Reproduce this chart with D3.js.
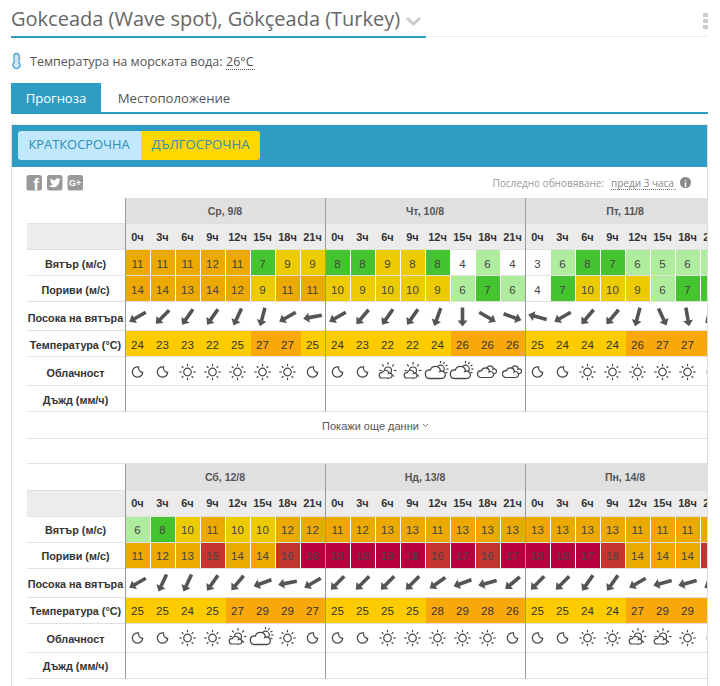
<!DOCTYPE html>
<html>
<head>
<meta charset="utf-8">
<script src="https://cdn.jsdelivr.net/npm/d3@7"></script>
<style>
  html, body { margin: 0; padding: 0; background: #fff; overflow: hidden; }
  text { font-family: "Liberation Sans", Arial, sans-serif; }
  text.os { font-family: "Open Sans", sans-serif; }
</style>
</head>
<body>
<script>
// define data
// a decimal in wind/gust shows the rounded number but falls in the next colour band
var tables = [
  {
    top: 198,
    days: [
      {
        label: "Ср, 9/8",
        wind: [11, 11, 11, 12, 11, 7, 9, 9],
        gust: [14, 14, 13, 14, 12, 9, 11, 11],
        dir: [240, 225, 215, 215, 205, 195, 240, 260],
        temp: [24, 23, 23, 22, 25, 27, 27, 25],
        sky: ["moon", "moon", "sun", "sun", "sun", "sun", "sun", "moon"],
      },
      {
        label: "Чт, 10/8",
        wind: [8, 8, 9, 8.4, 8, 4, 6, 4],
        gust: [10, 9, 10, 10, 9, 6, 7, 6],
        dir: [240, 220, 215, 215, 200, 180, 120, 110],
        temp: [24, 23, 22, 22, 24, 26, 26, 26],
        sky: ["moon", "moon", "part", "part", "most", "most", "cloud", "cloud"],
      },
      {
        label: "Пт, 11/8",
        wind: [3, 6, 8, 7, 6, 5, 6, 6],
        gust: [4, 7, 10, 10, 9, 6, 7, 7],
        dir: [285, 240, 220, 220, 195, 155, 170, 230],
        temp: [25, 24, 24, 24, 26, 27, 27, 26],
        sky: ["moon", "moon", "sun", "sun", "sun", "sun", "sun", "moon"],
      },
    ],
  },
  {
    top: 465,
    days: [
      {
        label: "Сб, 12/8",
        wind: [6, 8, 10, 11, 10, 10, 12, 12],
        gust: [11, 12, 13, 15, 14, 14, 16, 16.4],
        dir: [240, 205, 205, 215, 220, 250, 260, 240],
        temp: [25, 25, 24, 25, 27, 29, 29, 27],
        sky: ["moon", "moon", "sun", "sun", "part", "most", "sun", "moon"],
      },
      {
        label: "Нд, 13/8",
        wind: [11, 12, 13, 13, 11, 13, 13, 13],
        gust: [18, 18, 19, 18, 16, 17, 16, 17],
        dir: [225, 225, 225, 225, 235, 250, 255, 230],
        temp: [25, 25, 25, 25, 28, 29, 28, 26],
        sky: ["moon", "moon", "sun", "sun", "sun", "sun", "sun", "moon"],
      },
      {
        label: "Пн, 14/8",
        wind: [13, 13, 13, 13, 11, 11, 11, 11],
        gust: [18, 18, 17, 16, 14, 14, 14, 16],
        dir: [225, 225, 215, 215, 240, 255, 255, 240],
        temp: [25, 25, 24, 24, 27, 29, 29, 27],
        sky: ["moon", "moon", "sun", "sun", "part", "part", "sun", "moon"],
      },
    ],
  },
];

var hours = ["0ч", "3ч", "6ч", "9ч", "12ч", "15ч", "18ч", "21ч"];

var rowNames = [
  { label: "Вятър (м/с)", key: "wind", h: 26 },
  { label: "Пориви (м/с)", key: "gust", h: 26 },
  { label: "Посока на вятъра", key: "dir", h: 29 },
  { label: "Температура (°C)", key: "temp", h: 26 },
  { label: "Облачност", key: "sky", h: 29 },
  { label: "Дъжд (мм/ч)", key: "rain", h: 26 },
];

// define display
var w = 720;
var h = 686;
var blue = "#2e9cc3";
var line = "#e0e0e0";

var svg = d3.select("body").append("svg").attr("width", w).attr("height", h).style("display", "block");

var speedColor = d3
  .scaleThreshold()
  .domain([5, 7, 8.3, 11, 15, 16.3])
  .range(["#ffffff", "#b0ec9e", "#44c42f", "#eccb00", "#ecaa00", "#c4352f", "#b80040"]);
var tempColor = d3.scaleThreshold().domain([26]).range(["#fccc00", "#f9a80b"]);

var dayScale = d3.scaleBand().domain(d3.range(3)).range([125.5, 725.5]);
var hourScale = d3.scaleBand().domain(d3.range(8)).range([0, dayScale.bandwidth()]);

// page header
svg.append("text").attr("class", "os").attr("x", 11).attr("y", 26).attr("font-size", 20).attr("fill", "#666")
  .text("Gokceada (Wave spot), Gökçeada (Turkey)");
svg.append("path").attr("d", "M407 18l6.500 6 6.500-6").attr("fill", "none").attr("stroke", "#ccc").attr("stroke-width", 3);
svg.append("rect").attr("x", 11).attr("y", 36).attr("width", 415).attr("height", 2).attr("fill", blue);
svg.append("line").attr("x1", 426).attr("x2", 708).attr("y1", 36.5).attr("y2", 36.5)
  .attr("stroke", "#ddd").attr("stroke-dasharray", "1,1");
svg.selectAll("rect.dot").data([13, 19, 25]).enter().append("rect")
  .attr("x", 703).attr("y", function (d) { return d; }).attr("width", 5).attr("height", 4).attr("fill", "#ccc");

// water temperature
var thermo = svg.append("g").attr("fill", "none").attr("stroke", "#4ba3d6");
thermo.append("path").attr("stroke-width", 1.3).attr("fill", "#cfe6f5")
  .attr("d", "M14 56a2.500 2.500 0 0 1 5 0v6.500a3.500 3.500 0 1 1-5 0z");
thermo.append("path").attr("stroke-width", 1).attr("stroke", "#d9a56a")
  .attr("d", "M19.500 56h1.500M19.500 59h1.500");
svg.append("text").attr("class", "os").attr("x", 30).attr("y", 66).attr("font-size", 12.5).attr("fill", "#555")
  .text("Температура на морската вода:");
svg.append("text").attr("class", "os").attr("x", 226).attr("y", 66).attr("font-size", 12.5).attr("fill", "#555").text("26°C");
svg.append("line").attr("x1", 226).attr("x2", 255).attr("y1", 69.5).attr("y2", 69.5)
  .attr("stroke", "#555").attr("stroke-dasharray", "1,1");

// tabs
svg.append("rect").attr("x", 11).attr("y", 83).attr("width", 90).attr("height", 30).attr("fill", blue);
svg.append("rect").attr("x", 11).attr("y", 112).attr("width", 697).attr("height", 2).attr("fill", blue);
svg.append("text").attr("class", "os").attr("x", 56).attr("y", 103).attr("text-anchor", "middle")
  .attr("font-size", 13).attr("fill", "#fff").text("Прогноза");
svg.append("text").attr("class", "os").attr("x", 174).attr("y", 103).attr("text-anchor", "middle")
  .attr("font-size", 13.2).attr("fill", "#555").text("Местоположение");

// panel
svg.append("rect").attr("x", 11.500).attr("y", 125).attr("width", 696).attr("height", 570)
  .attr("fill", "#fff").attr("stroke", "#ddd");
svg.append("rect").attr("x", 12).attr("y", 125).attr("width", 695).attr("height", 42).attr("fill", blue);
svg.append("path").attr("fill", "#c2e8fd").attr("d", "M21 131h120v29h-120a3 3 0 0 1-3-3v-23a3 3 0 0 1 3-3z");
svg.append("path").attr("fill", "#ffd800").attr("d", "M141 131h116a3 3 0 0 1 3 3v23a3 3 0 0 1-3 3h-116z");
svg.append("text").attr("class", "os").attr("x", 79).attr("y", 149).attr("text-anchor", "middle")
  .attr("font-size", 12.9).attr("fill", "#2e8fb5").text("КРАТКОСРОЧНА");
svg.append("text").attr("class", "os").attr("x", 200.500).attr("y", 149).attr("text-anchor", "middle")
  .attr("font-size", 13.2).attr("fill", "#2e8fb5").text("ДЪЛГОСРОЧНА");

// share buttons
var shareGlyphs = [
  { x: 26.500, t: "f" },
  { x: 47, t: "" },
  { x: 67.500, t: "G+" },
];
var share = svg.selectAll("g.share").data(shareGlyphs).enter().append("g").attr("class", "share")
  .attr("transform", function (d) { return "translate(" + d.x + ",175)"; });
share.append("rect").attr("width", 15.500).attr("height", 15.500).attr("rx", 2.500).attr("fill", "#999");
share.append("text").attr("x", function (d) { return d.t == "f" ? 9.500 : 7.700; }).attr("y", function (d) { return d.t == "f" ? 15 : 11; })
  .attr("text-anchor", "middle").attr("fill", "#fff").attr("font-weight", "bold")
  .attr("font-size", function (d) { return d.t == "f" ? 17 : 9; })
  .text(function (d) { return d.t; });
// twitter bird
svg.append("path").attr("fill", "#fff").attr("transform", "translate(47,175)")
  .attr("d", "M2.500 11.500c4 2 9.500 0.500 10-6l1.200-1.300-1.500 0.300 1-1.300-1.500 0.600c-1-1.200-3.500-0.600-3.300 1.700-2-0.100-3.500-1-4.700-2.300-0.600 1.200-0.200 2.300 0.700 3l-1-0.300c0 1.100 0.700 1.900 1.800 2.300l-1 0c0.300 0.800 1 1.300 2 1.400-1 0.800-2.500 1.200-3.700 1z");

// last update
svg.append("text").attr("class", "os").attr("x", 492.500).attr("y", 187).attr("font-size", 10).attr("fill", "#999").text("Последно обновяване:");
svg.append("text").attr("class", "os").attr("x", 611).attr("y", 187).attr("font-size", 10).attr("fill", "#888").text("преди 3 часа");
svg.append("line").attr("x1", 611).attr("x2", 676).attr("y1", 189.500).attr("y2", 189.500)
  .attr("stroke", "#777").attr("stroke-dasharray", "1,1");
svg.append("circle").attr("cx", 685.500).attr("cy", 182.500).attr("r", 5.500).attr("fill", "#888");
svg.append("text").attr("x", 685.500).attr("y", 186.500).attr("text-anchor", "middle").attr("font-size", 9)
  .attr("font-weight", "bold").attr("fill", "#fff").text("i");

// clip the tables at the panel edge
svg.append("clipPath").attr("id", "panel").append("rect").attr("x", 12).attr("y", 190).attr("width", 695).attr("height", 500);

var chart = svg.append("g").attr("clip-path", "url(#panel)");

tables.forEach(drawTable);

function drawTable(table, ti) {
  var g = chart.append("g").attr("transform", "translate(0," + table.top + ")");
  var y0 = 26;
  var y1 = 52;
  // second table's top border sits a pixel above its rows, its text a bit higher too
  var headTop = ti == 0 ? 0 : -1;
  var nudge = ti == 0 ? 0 : -1;

  // header rows
  g.append("rect").attr("x", dayScale(0)).attr("y", headTop).attr("width", 600).attr("height", y0 - headTop).attr("fill", "#e0e0e0");
  g.append("rect").attr("x", 27).attr("y", y0).attr("width", 700).attr("height", y1 - y0).attr("fill", "#ececec");

  var yy = y1;
  var rowY = {};
  rowNames.forEach(function (r) {
    rowY[r.key] = yy;
    yy += r.h;
  });

  table.days.forEach(function (day, di) {
    var dg = g.append("g").attr("transform", "translate(" + dayScale(di) + ",0)");
    dg.append("text").attr("x", 99.500).attr("y", 17 + nudge).attr("text-anchor", "middle")
      .attr("font-size", 10.500).attr("font-weight", "bold").attr("fill", "#555").text(day.label);

    dg.selectAll("text.hour").data(hours).enter().append("text").attr("class", "hour")
      .attr("x", function (d, i) { return hourScale(i) + 12; })
      .attr("y", y0 + 17 + nudge).attr("text-anchor", "middle")
      .attr("font-size", 11).attr("font-weight", "bold").attr("fill", "#333")
      .text(function (d) { return d; });

    // wind and gust cells
    ["wind", "gust"].forEach(function (key) {
      var rowTop = rowY[key];
      dg.selectAll("rect." + key).data(day[key]).enter().append("rect").attr("class", key)
        .attr("x", function (d, i) { return hourScale(i) + 0.500; })
        .attr("y", rowTop)
        .attr("width", hourScale.bandwidth() - 1)
        .attr("height", 25)
        .attr("fill", function (d) { return speedColor(d); });
      dg.selectAll("text." + key).data(day[key]).enter().append("text").attr("class", key)
        .attr("x", function (d, i) { return hourScale(i) + 12; })
        .attr("y", rowTop + 17.500 + nudge / 2).attr("text-anchor", "middle").attr("font-size", 11.500).attr("fill", "#444")
        .text(function (d) { return Math.round(d); });
    });

    // direction arrows
    dg.selectAll("path.arrow").data(day.dir).enter().append("path").attr("class", "arrow")
      .attr("d", "M-1.800 -9.500H1.800V3.500H5L0 9.500-5 3.500H-1.800Z")
      .attr("fill", "#555")
      .attr("transform", function (d, i) {
        return "translate(" + (hourScale(i) + 12) + "," + (rowY.dir + 15 + nudge) + ") rotate(" + (d - 180) + ")";
      });

    // temperature
    var tt = rowY.temp;
    dg.selectAll("rect.temp").data(day.temp).enter().append("rect").attr("class", "temp")
      .attr("x", function (d, i) { return hourScale(i) + 0.500; })
      .attr("y", tt).attr("width", hourScale.bandwidth()).attr("height", 25)
      .attr("fill", function (d) { return tempColor(d); });
    dg.selectAll("text.temp").data(day.temp).enter().append("text").attr("class", "temp")
      .attr("x", function (d, i) { return hourScale(i) + 12; })
      .attr("y", tt + 17.500 + nudge / 2).attr("text-anchor", "middle").attr("font-size", 11.500).attr("fill", "#333")
      .text(function (d) { return d; });

    // sky icons
    dg.selectAll("g.sky").data(day.sky).enter().append("g").attr("class", "sky")
      .attr("transform", function (d, i) {
        return "translate(" + (hourScale(i) + 12) + "," + (rowY.sky + 15 + nudge) + ")";
      })
      .each(function (d) { skyIcon(d3.select(this), d); });
  });

  // row separators and labels
  var sep = [y0, y1, rowY.gust, rowY.dir, rowY.temp, rowY.sky, rowY.rain, yy];
  g.selectAll("line.sep").data(sep).enter().append("line").attr("class", "sep")
    .attr("x1", 27).attr("x2", 707)
    .attr("y1", function (d) { return d - 0.500; }).attr("y2", function (d) { return d - 0.500; })
    .attr("stroke", line);

  g.selectAll("text.row").data(rowNames).enter().append("text").attr("class", "row")
    .attr("x", 75.500)
    .attr("y", function (d) { return rowY[d.key] + d.h / 2 + 5 + nudge; })
    .attr("text-anchor", "middle").attr("font-size", 10.800).attr("font-weight", "bold").attr("fill", "#333")
    .text(function (d) { return d.label; });

  // day dividers
  g.selectAll("line.div").data([0, 1, 2]).enter().append("line").attr("class", "div")
    .attr("x1", function (d) { return dayScale(d); })
    .attr("x2", function (d) { return dayScale(d); })
    .attr("y1", headTop).attr("y2", yy - 0.500)
    .attr("stroke", "#999");

  if (ti == 0) {
    g.append("text").attr("x", 370.500).attr("y", yy + 18).attr("text-anchor", "middle").attr("font-size", 11)
      .attr("fill", "#555").text("Покажи още данни");
    g.append("path").attr("d", "M423 " + (yy + 12) + "l2.500 2.500 2.500-2.500").attr("fill", "none").attr("stroke", "#777");
    g.append("line").attr("x1", 27).attr("x2", 707).attr("y1", yy + 26.500).attr("y2", yy + 26.500).attr("stroke", line);
  } else {
    g.append("line").attr("x1", 27).attr("x2", 707).attr("y1", -1.500).attr("y2", -1.500).attr("stroke", line);
  }
}

// cloud cover pictograms, stroked in the site's dark grey
function sunRays(g, cx, cy, r0, r1, n, from, to) {
  d3.range(n).forEach(function (i) {
    var a = ((from + ((to - from) * i) / (n - 1 || 1)) * Math.PI) / 180;
    g.append("line")
      .attr("x1", cx + r0 * Math.cos(a)).attr("y1", cy + r0 * Math.sin(a))
      .attr("x2", cx + r1 * Math.cos(a)).attr("y2", cy + r1 * Math.sin(a));
  });
}

function cloudPath(scale, dx, dy) {
  var p = d3.path();
  p.moveTo(dx - 5 * scale, dy + 4 * scale);
  p.arc(dx - 5 * scale, dy + 0.500 * scale, 3.500 * scale, Math.PI / 2, -Math.PI / 2 - 0.300, false);
  p.arc(dx - 0.500 * scale, dy - 1.500 * scale, 4.200 * scale, Math.PI + 0.300, -0.300, false);
  p.arc(dx + 4.500 * scale, dy + 1 * scale, 3 * scale, -Math.PI / 2 - 0.500, Math.PI / 2, false);
  p.closePath();
  return p.toString();
}

function skyIcon(g, kind) {
  g.attr("fill", "none").attr("stroke", "#484848").attr("stroke-width", 1.200);
  if (kind == "moon") {
    g.attr("stroke-width", 1.300);
    g.append("path").attr("d", "M1 -5.100A5.200 5.200 0 1 0 5.200 0.500A5 5 0 0 1 1 -5.100Z");
  } else if (kind == "sun") {
    g.append("circle").attr("r", 3.800);
    sunRays(g, 0, 0, 5.800, 8.200, 8, -90, 225);
  } else if (kind == "part") {
    g.append("circle").attr("cx", 0.500).attr("cy", -1.500).attr("r", 3.500);
    sunRays(g, 0.500, -1.500, 5.800, 8.500, 8, -90, 225);
    g.append("path").attr("d", cloudPath(0.800, -1.500, 2.800)).attr("fill", "#fff");
  } else if (kind == "most") {
    g.append("circle").attr("cx", 3).attr("cy", -3).attr("r", 3.800);
    sunRays(g, 3, -3, 5.800, 8, 5, -90, 30);
    g.append("path").attr("d", cloudPath(1.250, -1.500, 1.500)).attr("fill", "#fff").attr("stroke-width", 1.300);
  } else {
    g.append("path").attr("d", cloudPath(0.800, 3, -1.500)).attr("fill", "#fff");
    g.append("path").attr("d", cloudPath(1, -1.500, 1.500)).attr("fill", "#fff");
  }
}
</script>
</body>
</html>
